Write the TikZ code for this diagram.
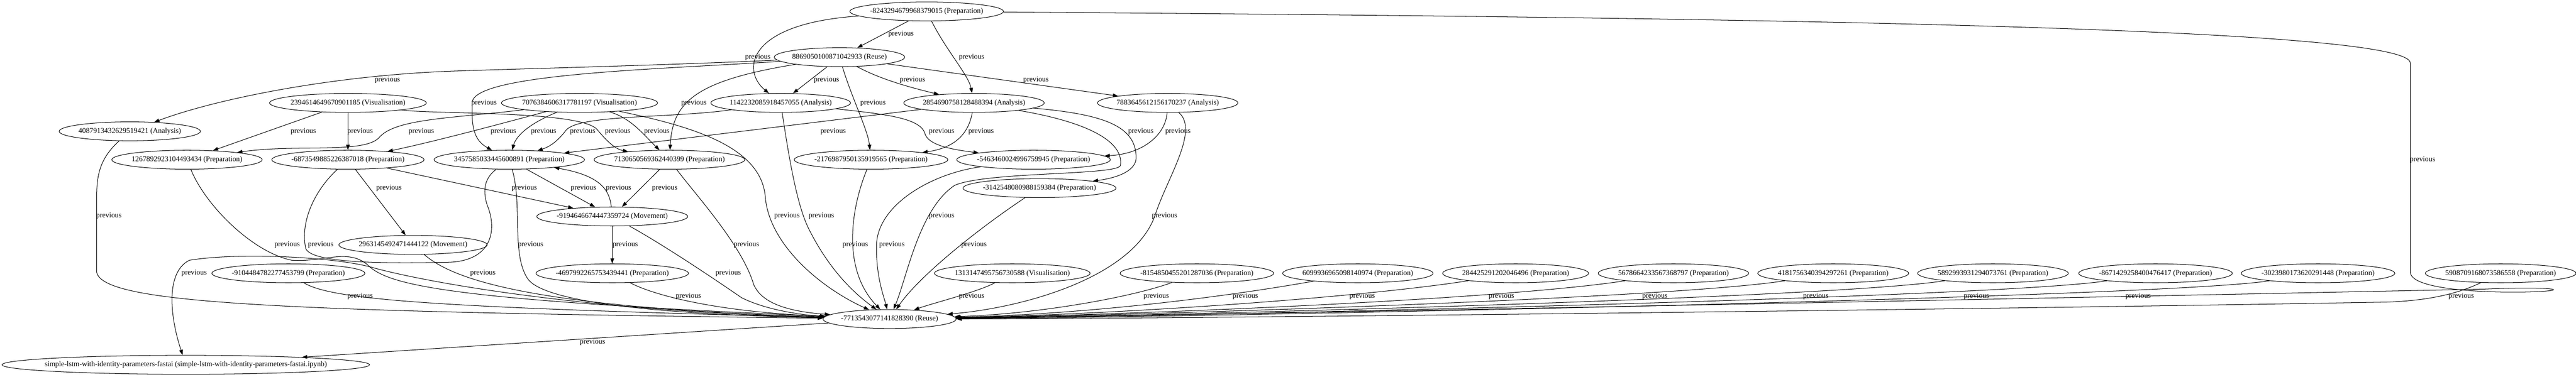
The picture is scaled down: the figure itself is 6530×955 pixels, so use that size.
\documentclass[tikz,border=0pt]{standalone}
\usepackage{fontspec}
\setmainfont{Liberation Serif}
\usetikzlibrary{arrows.meta,shapes.geometric}
\newcommand{\ntx}[1]{\makebox[0pt]{#1}}
\begin{document}
\begin{tikzpicture}[x=0.75pt,y=-0.75pt,
 nd/.style={ellipse,draw,line width=1pt,inner sep=0pt,minimum height=36pt,font=\fontsize{14}{16}\selectfont},
 lb/.style={inner sep=0pt,font=\fontsize{14}{16}\selectfont},
 ed/.style={draw,line width=1pt,-{Triangle[length=10pt,width=7pt]}},
 pl/.style={draw,line width=1pt}]
\useasboundingbox[fill=white] (0,0) rectangle (6530,955);
% nodes
\node[nd,minimum width=292pt] (T) at (2349,29) {\ntx{-8243294679968379015 (Preparation)}};
\node[nd,minimum width=248pt] (R1) at (2128,145) {\ntx{8869050100871042933 (Reuse)}};
\node[nd,minimum width=268.5pt] (A0) at (329,333) {\ntx{4087913432629519421 (Analysis)}};
\node[nd,minimum width=298pt] (V1) at (882,261) {\ntx{2394614649670901185 (Visualisation)}};
\node[nd,minimum width=297pt] (V2) at (1469,261) {\ntx{7076384606317781197 (Visualisation)}};
\node[nd,minimum width=265.5pt] (A1) at (1979,261) {\ntx{1142232085918457055 (Analysis)}};
\node[nd,minimum width=267pt] (A2) at (2469,261) {\ntx{2854690758128488394 (Analysis)}};
\node[nd,minimum width=267pt] (A3) at (2960,261) {\ntx{7883645612156170237 (Analysis)}};
\node[nd,minimum width=286pt] (P1) at (474,405) {\ntx{1267892923104493434 (Preparation)}};
\node[nd,minimum width=289.5pt] (P2) at (882,405) {\ntx{-6873549885226387018 (Preparation)}};
\node[nd,minimum width=286pt] (P3) at (1291,405) {\ntx{3457585033445600891 (Preparation)}};
\node[nd,minimum width=286.5pt] (P4) at (1697,405) {\ntx{7130650569362440399 (Preparation)}};
\node[nd,minimum width=292pt] (P5) at (2208,405) {\ntx{-2176987950135919565 (Preparation)}};
\node[nd,minimum width=292pt] (P6) at (2620,405) {\ntx{-5463460024996759945 (Preparation)}};
\node[nd,minimum width=291pt] (P7) at (2635,477) {\ntx{-3142548080988159384 (Preparation)}};
\node[nd,minimum width=287pt] (M1) at (1552,549) {\ntx{-9194646674447359724 (Movement)}};
\node[nd,minimum width=282pt] (M2) at (1047,621) {\ntx{2963145492471444122 (Movement)}};
\node[nd,minimum width=291pt] (P8) at (731,693) {\ntx{-9104484782277453799 (Preparation)}};
\node[nd,minimum width=290pt] (P9) at (1552,693) {\ntx{-4697992265753439441 (Preparation)}};
\node[nd,minimum width=253pt] (R2) at (2255,809) {\ntx{-7713543077141828390 (Reuse)}};
\node[nd,minimum width=699pt] (S) at (471,925) {\ntx{simple-lstm-with-identity-parameters-fastai (simple-lstm-with-identity-parameters-fastai.ipynb)}};
\node[nd,minimum width=296pt] (V3) at (2566,693) {\ntx{1313147495756730588 (Visualisation)}};
\node[nd,minimum width=292pt] (Q1) at (3034,693) {\ntx{-8154850455201287036 (Preparation)}};
\node[nd,minimum width=286pt] (Q2) at (3442,693) {\ntx{6099936965098140974 (Preparation)}};
\node[nd,minimum width=277.5pt] (Q3) at (3842,693) {\ntx{284425291202046496 (Preparation)}};
\node[nd,minimum width=286pt] (Q4) at (4242,693) {\ntx{5678664233567368797 (Preparation)}};
\node[nd,minimum width=287pt] (Q5) at (4647,693) {\ntx{4181756340394297261 (Preparation)}};
\node[nd,minimum width=286.5pt] (Q6) at (5052,693) {\ntx{5892993931294073761 (Preparation)}};
\node[nd,minimum width=292pt] (Q7) at (5464,693) {\ntx{-8671429258400476417 (Preparation)}};
\node[nd,minimum width=292pt] (Q8) at (5876,693) {\ntx{-3023980173620291448 (Preparation)}};
\node[nd,minimum width=286.5pt] (Q9) at (6339,693) {\ntx{5908709168073586558 (Preparation)}};
% edges from T
\draw[ed] (T) -- (R1);
\draw[ed] (T) .. controls (1890,60) and (1880,180) .. (A1);
\draw[ed] (T) .. controls (2400,130) and (2455,190) .. (A2);
\draw[ed] (T) .. controls (4500,45) and (6110,70) .. (6110,160) -- (6110,690) .. controls (6110,745) and (6400,745) .. (6465,737) .. controls (6495,733) and (6440,727) .. (6300,733) .. controls (5000,760) and (3000,800) .. (R2);
% edges from R1
\draw[ed] (R1) .. controls (1700,165) and (1300,175) .. (1158,180) .. controls (850,190) and (550,250) .. (A0);
\draw[ed] (R1) .. controls (1700,175) and (1200,185) .. (1197,260) .. controls (1195,320) and (1200,355) .. (P3);
\draw[ed] (R1) .. controls (1760,205) and (1705,260) .. (P4);
\draw[ed] (R1) -- (A1);
\draw[ed] (R1) .. controls (2160,250) and (2200,330) .. (P5);
\draw[ed] (R1) .. controls (2230,200) and (2300,220) .. (A2);
\draw[ed] (R1) -- (A3);
% V1
\draw[ed] (V1) -- (P1);
\draw[ed] (V1) -- (P2);
\draw[ed] (V1) .. controls (1100,290) and (1480,280) .. (1515,330) .. controls (1540,360) and (1560,378) .. (P4);
% V2
\draw[ed] (V2) .. controls (1150,300) and (1000,300) .. (960,350) .. controls (920,390) and (750,365) .. (P1);
\draw[ed] (V2) .. controls (1320,300) and (1120,355) .. (P2);
\draw[ed] (V2) .. controls (1350,310) and (1310,340) .. (P3);
\draw[ed] (V2) .. controls (1600,300) and (1630,340) .. (P4);
\draw[ed] (V2) .. controls (1750,320) and (1930,370) .. (1940,500) .. controls (1950,620) and (2080,730) .. (R2);
% A1
\draw[ed] (A1) .. controls (1700,300) and (1470,290) .. (1435,330) .. controls (1420,350) and (1400,370) .. (P3);
\draw[ed] (A1) .. controls (2250,290) and (2335,300) .. (2345,340) .. controls (2355,370) and (2420,380) .. (P6);
\draw[ed] (A1) .. controls (2000,400) and (2020,520) .. (2050,580) .. controls (2100,680) and (2160,740) .. (R2);
% A2
\draw[ed] (A2) .. controls (2455,340) and (2420,375) .. (P5);
\draw[ed] (A2) -- (P3);
\draw[ed] (A2) .. controls (2800,290) and (2880,320) .. (2880,400) .. controls (2880,430) and (2840,450) .. (P7);
\draw[ed] (A2) .. controls (2760,310) and (2850,360) .. (2840,420) .. controls (2830,445) and (2500,435) .. (2420,470) .. controls (2330,530) and (2300,700) .. (R2);
% A3
\draw[ed] (A3) .. controls (2955,340) and (2900,390) .. (P6);
\draw[ed] (A3) .. controls (3040,330) and (2960,450) .. (2930,540) .. controls (2880,700) and (2600,780) .. (R2);
% A0
\draw[ed] (A0) .. controls (255,400) and (245,440) .. (245,500) -- (245,690) .. controls (260,770) and (700,790) .. (R2);
% P1
\draw[ed] (P1) .. controls (520,520) and (640,640) .. (740,660) .. controls (820,665) and (880,630) .. (930,670) .. controls (980,720) and (1100,760) .. (R2);
% P2
\draw[ed] (P2) -- (M2);
\draw[ed] (P2) -- (M1);
\draw[pl] (P2) .. controls (800,480) and (760,560) .. (775,630) .. controls (790,670) and (1000,668) .. (1140,665) .. controls (1250,660) and (1260,580) .. (1235,520) .. controls (1222,480) and (1230,450) .. (P3);
% P3
\draw[ed] (P3) .. controls (1325,520) and (1295,650) .. (1340,710) .. controls (1400,780) and (1800,800) .. (R2);
\draw[ed] (P3) -- (M1);
% M1
\draw[ed] (M1) .. controls (1545,480) and (1520,445) .. (P3);
\draw[ed] (M1) -- (P9);
\draw[ed] (M1) .. controls (1680,620) and (1800,700) .. (1880,755) .. controls (1950,790) and (2050,800) .. (R2);
% P4
\draw[ed] (P4) -- (M1);
\draw[ed] (P4) .. controls (1760,490) and (1880,620) .. (1910,720) .. controls (1930,770) and (2000,790) .. (R2);
% others into R2
\draw[ed] (P5) .. controls (2160,520) and (2130,680) .. (R2);
\draw[ed] (P6) .. controls (2360,440) and (2225,520) .. (2222,620) .. controls (2220,700) and (2240,750) .. (R2);
\draw[ed] (P7) .. controls (2480,580) and (2330,700) .. (R2);
\draw[ed] (M2) .. controls (1150,710) and (1350,780) .. (R2);
\draw[ed] (P8) .. controls (840,760) and (1100,780) .. (R2);
\draw[ed] (P9) .. controls (1650,745) and (1800,790) .. (R2);
\draw[ed] (V3) .. controls (2480,740) and (2360,770) .. (R2);
\draw[ed] (Q1) .. controls (2880,750) and (2650,795) .. (R2);
\draw[ed] (Q2) .. controls (3150,745) and (2800,795) .. (R2);
\draw[ed] (Q3) .. controls (3480,750) and (2900,795) .. (R2);
\draw[ed] (Q4) .. controls (3842,755) and (3000,795) .. (R2);
\draw[ed] (Q5) .. controls (4247,755) and (3000,797) .. (R2);
\draw[ed] (Q6) .. controls (4652,755) and (3000,800) .. (R2);
\draw[ed] (Q7) .. controls (5064,755) and (3000,802) .. (R2);
\draw[ed] (Q8) .. controls (5476,755) and (3000,805) .. (R2);
\draw[ed] (Q9) .. controls (6240,740) and (6170,762) .. (6050,766) .. controls (5000,785) and (3000,808) .. (R2);
% R2 to S
\draw[ed] (R2) -- (S);
\draw[ed] (R2) .. controls (1500,790) and (1100,720) .. (950,680) .. controls (850,650) and (600,640) .. (480,660) .. controls (420,690) and (430,800) .. (S);
% labels
\foreach \x/\y [count=\i] in {2284/87,1921/145,2463/145,6141/405,982/203,2095/203,2313/203,2626/203,1227/261,1759/261,2213/261,769/333,913/333,1068/333,1276/333,1378/333,1477/333,1566/333,1665/333,2112/333,2387/333,2487/333,2892/333,2986/333,986/477,1329/477,1479/477,1568/477,1685/477,276/548,1995/548,2082/548,2387/548,2952/548,728/621,813/621,1345/621,1585/621,1892/621,2168/621,2261/621,2469/621,492/693,1224/693,1846/693,913/751,1745/751,2463/751,2931/751,3157/751,3453/751,3806/751,4195/751,4603/751,5010/751,5420/751,6239/751,1502/868}
  \node[lb] (l\i) at (\x,\y) {previous};
\end{tikzpicture}
\end{document}
